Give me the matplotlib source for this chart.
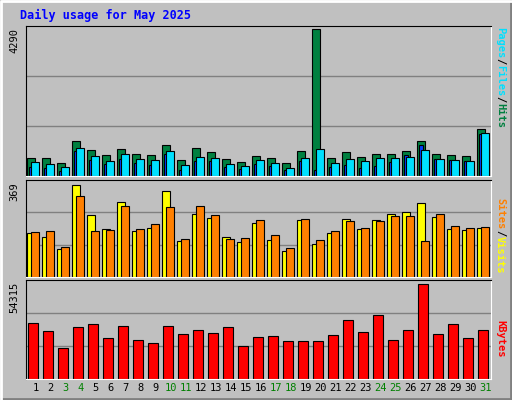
import matplotlib
matplotlib.use("Agg")
import matplotlib.pyplot as plt
import numpy as np

days = list(range(1, 32))
weekend = [3, 4, 10, 11, 17, 18, 24, 25, 31]
hits = [525, 525, 380, 1010, 752, 609, 781, 638, 609, 895, 466, 809, 695, 495, 409, 580, 525, 380, 724, 4290,
        525, 695, 552, 638, 638, 724, 1010, 638, 609, 580, 1381]
files = [409, 352, 266, 809, 580, 438, 638, 495, 466, 724, 323, 552, 523, 352, 295, 466, 380, 237, 523, 781,
         380, 495, 438, 523, 523, 552, 752, 495, 466, 438, 1267]
pages = [266, 237, 152, 724, 466, 352, 495, 380, 323, 638, 180, 438, 438, 266, 209, 352, 295, 180, 438, 180,
         266, 323, 237, 295, 409, 609, 895, 495, 466, 438, 1238]
visits = [177, 161, 113, 369, 249, 193, 301, 185, 197, 345, 145, 253, 237, 161, 141, 217, 149, 105, 229, 133,
          177, 233, 193, 229, 253, 261, 297, 241, 193, 189, 197]
sites = [181, 185, 121, 325, 185, 189, 285, 193, 213, 281, 153, 285, 249, 153, 157, 229, 169, 117, 233, 149,
         185, 225, 197, 225, 245, 245, 145, 253, 205, 197, 201]
kbytes = [32130, 27540, 17940, 29840, 31380, 23310, 30230, 22160, 20820, 30230, 25580, 27880, 26340, 29450,
          18890, 24180, 24560, 21780, 21780, 21780, 25000, 34010, 26720, 36680, 22160, 28260, 54315, 25960,
          31380, 23690, 28260]
maxes = ["4290", "369", "54315"]

W, H = 512, 400
BG = "#C0C0C0"
fig = plt.figure(figsize=(5.12, 4.0), dpi=100, facecolor=BG)
# 3D border
border = fig.add_axes([0, 0, 1, 1], zorder=-5)
border.set_xlim(0, W); border.set_ylim(H, 0); border.axis("off")
border.plot([1, W - 1, W - 1], [H - 1, H - 1, 1], color="#808080", lw=2)
border.plot([1, 1, W - 1], [H - 1, 1, 1], color="white", lw=2)

def axrect(x0, y0, x1, y1):
    return [x0 / W, 1 - y1 / H, (x1 - x0) / W, (y1 - y0) / H]

L, R = 26, 491
panels = [(26, 176), (180, 277), (280, 379)]
mono = "DejaVu Sans Mono"
x = np.array(days) - 0.5  # slot start

def setup(ax, top):
    ax.set_facecolor(BG)
    ax.set_xlim(0.5, 31.5)
    ax.set_ylim(0, top)
    ax.set_xticks([]); ax.set_yticks([])
    for g in (top / 3, 2 * top / 3):
        ax.axhline(g, color="#808080", lw=1, zorder=0)
    for s in ax.spines.values():
        s.set_color("black")
    ax.spines["right"].set_color("white")
    ax.spines["bottom"].set_color("white")

ek = dict(edgecolor="black", linewidth=0.8, align="edge")
ax1 = fig.add_axes(axrect(L, *panels[0][:1], R, panels[0][1]) if False else axrect(L, panels[0][0], R, panels[0][1]))
setup(ax1, 4290 * 150 / 147)
ax1.bar(x + 1 / 15, hits, width=8 / 15, color="#008040", **ek)
ax1.bar(x + 2.5 / 15, pages, width=4 / 15, color="#0040FF", **ek)
ax1.bar(x + 4.5 / 15, files, width=8 / 15, color="#00E0FF", **ek)

ax2 = fig.add_axes(axrect(L, panels[1][0], R, panels[1][1]))
setup(ax2, 369 * 97 / 92.5)
ax2.bar(x + 1 / 15, visits, width=8 / 15, color="#FFFF00", **ek)
ax2.bar(x + 5 / 15, sites, width=8 / 15, color="#FF8000", **ek)

ax3 = fig.add_axes(axrect(L, panels[2][0], R, panels[2][1]))
setup(ax3, 54315 * 99 / 95)
ax3.bar(x + 2 / 15, kbytes, width=10 / 15, color="#FF0000", **ek)

ov = fig.add_axes([0, 0, 1, 1], zorder=10)
ov.set_xlim(0, W); ov.set_ylim(H, 0); ov.axis("off")
ov.text(20, 15, "Daily usage for May 2025", color="#0000FF", fontsize=8.5, fontweight="bold",
        family=mono, va="center", ha="left")
for (y0, y1), m in zip(panels, maxes):
    ov.text(14, y0 + 2, m, rotation=90, fontsize=7.5, family=mono, ha="center", va="top")
for d in days:
    xc = L + (d - 0.5) * (R - L) / 31 + 2
    ov.text(xc, 388, str(d), fontsize=7.5, family=mono, ha="center", va="center",
            color="#008000" if d in weekend else "black")

def side(parts, ytop):
    y = ytop
    for txt, col in parts:
        ov.text(500, y, txt, rotation=270, fontsize=7.5, family=mono, fontweight="bold",
                color=col, ha="center", va="top")
        y += len(txt) * 6.3
side([("Pages", "#00E0FF"), ("/", "black"), ("Files", "#00E0FF"), ("/", "black"), ("Hits", "#008040")], 27)
side([("Sites", "#FF8000"), ("/", "black"), ("Visits", "#FFFF00")], 198)
side([("KBytes", "#FF0000")], 320)

fig.savefig("out.png", dpi=100, facecolor=BG)
